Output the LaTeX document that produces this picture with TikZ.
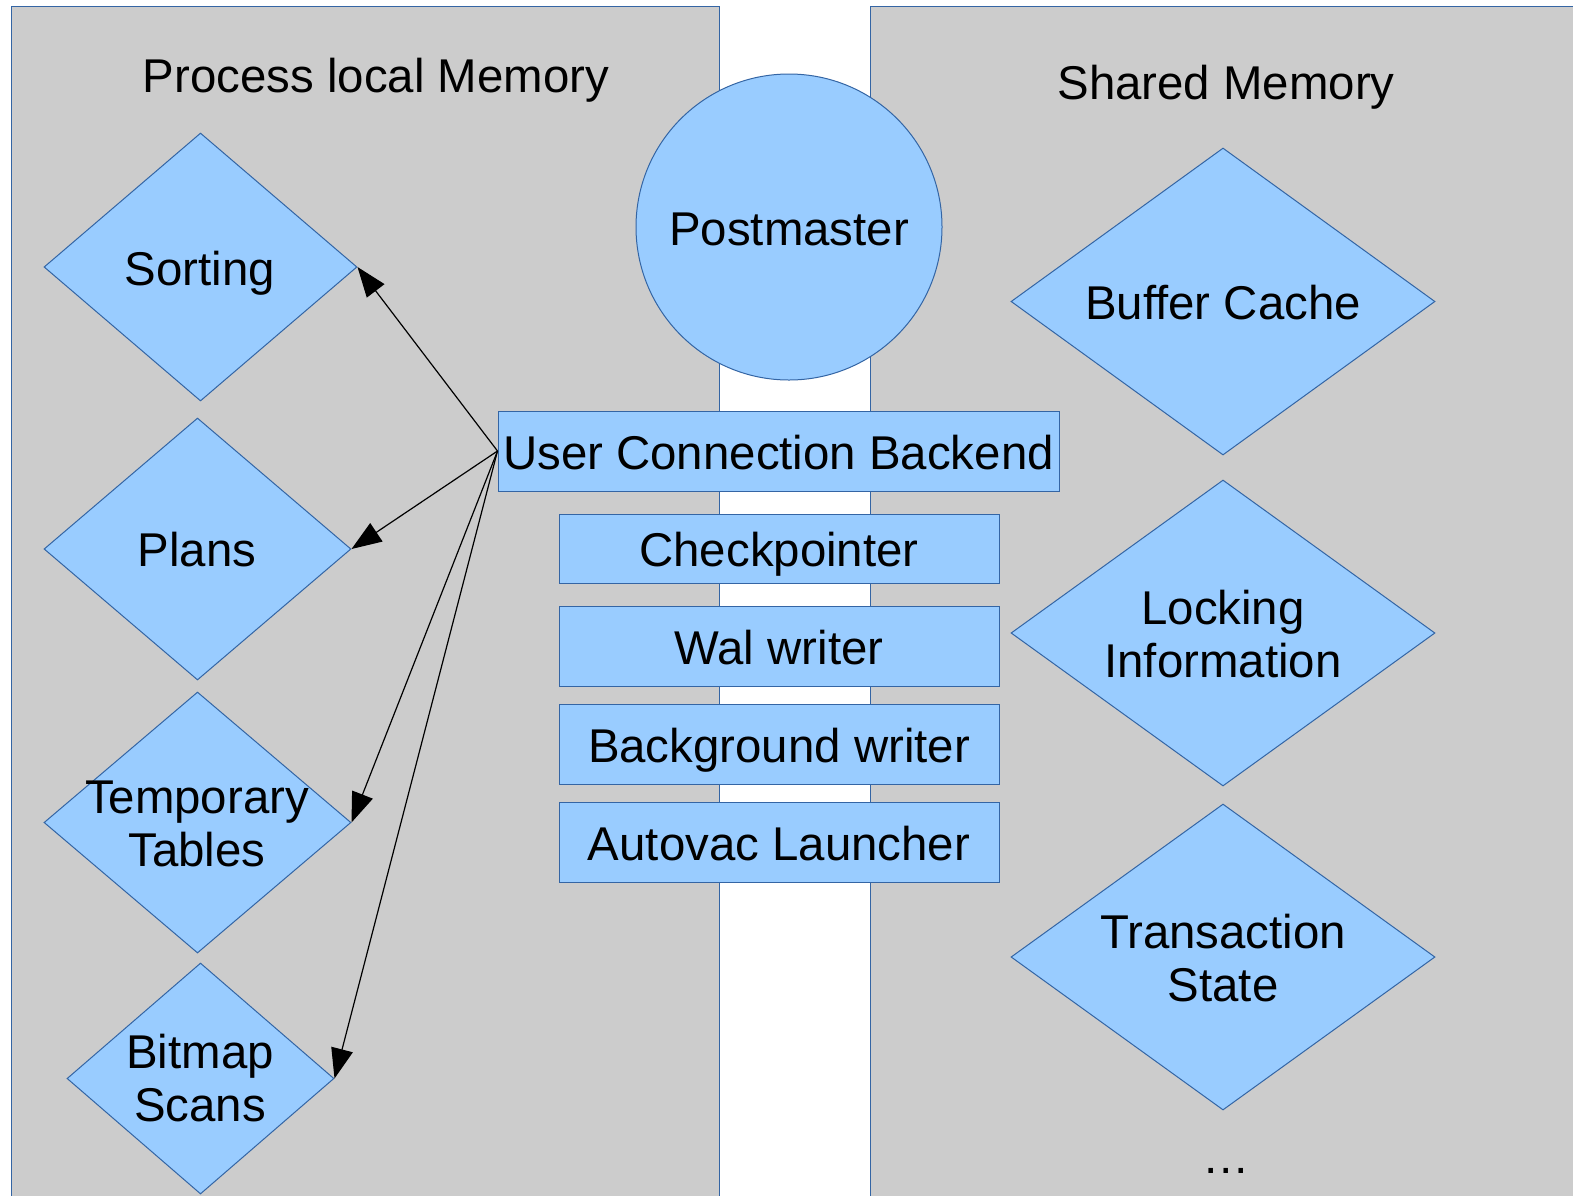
\documentclass[tikz,border=0pt]{standalone}
\usepackage{fontspec}
\setmainfont{Liberation Sans}
\usetikzlibrary{shapes.geometric,arrows.meta}
\definecolor{panelgray}{HTML}{CCCCCC}
\definecolor{shapeblue}{HTML}{99CCFF}
\definecolor{edgeblue}{HTML}{3465A4}
\begin{document}
\begin{tikzpicture}[x=0.5pt,y=-0.5pt,
  every node/.style={font=\fontsize{23.7}{26.5}\selectfont, text=black},
  panel/.style={fill=panelgray, draw=edgeblue, line width=0.5pt},
  dia/.style={diamond, fill=shapeblue, draw=edgeblue, line width=0.5pt, inner sep=0pt},
  box/.style={rectangle, fill=shapeblue, draw=edgeblue, line width=0.5pt, inner sep=0pt, minimum width=220pt, minimum height=40pt, text height=18pt, text depth=0pt},
  lbl/.style={align=center, inner sep=0pt},
  lblone/.style={inner sep=0pt, text height=17pt, text depth=0pt},
  arr/.style={draw=black, line width=0.6pt, -{Triangle[length=15pt,width=11pt]}}
]
\useasboundingbox (0,0) rectangle (1573,1195);
\clip (0,0) rectangle (1573,1195);
\fill[white] (0,0) rectangle (1573,1195);
% panels
\path[panel] (11,6) rectangle (719,1210);
\path[panel] (870,6) rectangle (1590,1210);
\node[lblone] (tleft) at (376,75) {Process local Memory};
\node[lblone] (tright) at (1226,82) {Shared Memory};

% postmaster
\node[circle, fill=shapeblue, draw=edgeblue, line width=0.5pt, minimum size=153pt, inner sep=0pt] (pm) at (789,227) {};
\node[lblone] (pmt) at (789,228) {Postmaster};

% left diamonds
\node[dia, minimum width=156.5pt, minimum height=134pt] (sort) at (200.5,267) {};
\node[lblone] (sortt) at (200,268) {Sorting};
\node[dia, minimum width=153.5pt, minimum height=131pt] (plans) at (197.5,549) {};
\node[lblone] (planst) at (197,549) {Plans};
\node[dia, minimum width=153.5pt, minimum height=130.5pt] (temp) at (197.5,822.5) {};
\node[lbl] (tempt) at (197,824) {Temporary\\Tables};
\node[dia, minimum width=133.5pt, minimum height=115.5pt] (bitmap) at (200.5,1078.5) {};
\node[lbl] (bitmapt) at (200,1078) {Bitmap\\Scans};

% right diamonds
\node[dia, minimum width=212pt, minimum height=153.5pt] (buf) at (1223,301.5) {};
\node[lblone] (buft) at (1223,302) {Buffer Cache};
\node[dia, minimum width=212pt, minimum height=153pt] (lock) at (1223,633) {};
\node[lbl] (lockt) at (1223,634) {Locking\\Information};
\node[dia, minimum width=212pt, minimum height=153pt] (trans) at (1223,957) {};
\node[lbl] (transt) at (1223,958) {Transaction\\State};
\node[lblone] (dots) at (1226,1156) {\ldots};

% process boxes
\node[box, minimum width=280.5pt] (ucb) at (778.5,451) {User Connection Backend};
\node[box, minimum height=34.5pt] (ckpt) at (779,548.5) {Checkpointer};
\node[box] (wal) at (779,646) {Wal writer};
\node[box] (bgw) at (779,744) {Background writer};
\node[box] (avl) at (779,842) {Autovac Launcher};

% arrows
\draw[arr] (ucb.west) -- (sort.east);
\draw[arr] (ucb.west) -- (plans.east);
\draw[arr] (ucb.west) -- (temp.east);
\draw[arr] (ucb.west) -- (bitmap.east);
\end{tikzpicture}
\end{document}
